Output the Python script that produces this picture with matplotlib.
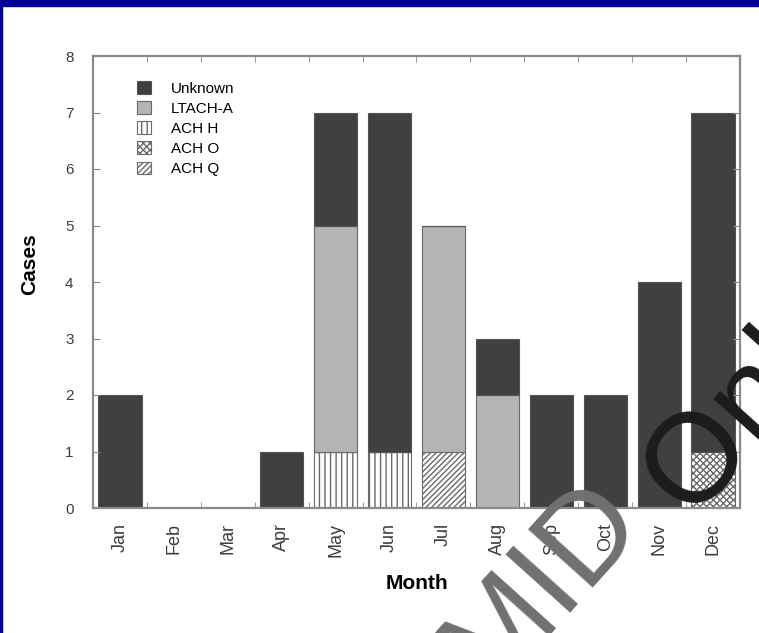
import matplotlib.pyplot as plt
import matplotlib.patches as mpatches
import numpy as np

plt.rcParams['font.family'] = ['Liberation Sans', 'DejaVu Sans']
plt.rcParams['hatch.color'] = '#505050'
plt.rcParams['hatch.linewidth'] = 1.0

# data
months = ['Jan', 'Feb', 'Mar', 'Apr', 'May', 'Jun', 'Jul', 'Aug', 'Sep', 'Oct', 'Nov', 'Dec']
ach_h = [0, 0, 0, 0, 1, 1, 0, 0, 0, 0, 0, 0]
ach_o = [0, 0, 0, 0, 0, 0, 0, 0, 0, 0, 0, 1]
ach_q = [0, 0, 0, 0, 0, 0, 1, 0, 0, 0, 0, 0]
ltach_a = [0, 0, 0, 0, 4, 0, 4, 2, 0, 0, 0, 0]
unknown = [2, 0, 0, 1, 2, 6, 0, 1, 2, 2, 4, 6]

W, H = 759, 633
fig = plt.figure(figsize=(W / 100, H / 100), dpi=100)
ax = fig.add_axes([93 / W, 1 - 508 / H, 647 / W, 452 / H])

x = np.arange(len(months))
bw = 0.8
edge = '#6a6a6a'
bottom = np.zeros(len(months))

# stacks, bottom first
b_h = ax.bar(x, ach_h, bw, bottom=bottom, color='white', edgecolor=edge, lw=0.8, hatch='|||')
bottom += ach_h
b_o = ax.bar(x, ach_o, bw, bottom=bottom, color='white', edgecolor=edge, lw=0.8, hatch='xxxxx')
bottom += ach_o
b_q = ax.bar(x, ach_q, bw, bottom=bottom, color='white', edgecolor=edge, lw=0.8, hatch='//////')
bottom += ach_q
b_l = ax.bar(x, ltach_a, bw, bottom=bottom, color='#b4b4b4', edgecolor=edge, lw=0.8)
bottom += ltach_a
b_u = ax.bar(x, unknown, bw, bottom=bottom, color='#404040', edgecolor='#555555', lw=0.8)

ax.set_xlim(-0.5, 11.5)
ax.set_ylim(0, 8)
ax.set_yticks(range(9))
ax.set_xticks(x)
ax.set_xticklabels(months, rotation=90, fontsize=13, color='#3c3c3c')
ax.set_xticks(np.arange(-0.5, 12, 1), minor=True)
ax.tick_params(axis='x', which='major', length=0, pad=11)
ax.tick_params(axis='x', which='minor', direction='in', length=4, color='#888888', top=True)
ax.tick_params(axis='y', direction='in', length=5, color='#888888', right=True,
               labelsize=11, labelcolor='#3c3c3c', pad=14)
for s in ax.spines.values():
    s.set_color('#8a8a8a')
    s.set_linewidth(1.6)

ax.set_xlabel('Month', fontsize=15, fontweight='bold', labelpad=12)
ax.set_ylabel('Cases', fontsize=15, fontweight='bold')
ax.yaxis.set_label_coords(-0.083, 0.54)

handles = [b_u, b_l, b_h, b_o, b_q]
labels = ['Unknown', 'LTACH-A', 'ACH H', 'ACH O', 'ACH Q']
ax.legend(handles, labels, loc='upper left', bbox_to_anchor=(0.052, 0.968), frameon=False,
          fontsize=11, handlelength=0.9, handleheight=0.9, handletextpad=1.3,
          labelspacing=0.36, borderpad=0.2)

# page frame
fig.patches.append(mpatches.Rectangle((0, 1 - 6 / H), 1, 6 / H, transform=fig.transFigure,
                                      color='#000099', zorder=5))
fig.patches.append(mpatches.Rectangle((0, 0), 2 / W, 1, transform=fig.transFigure,
                                      color='#000099', zorder=5))

# watermark (pixel coords, origin bottom-left)
ang = 48
fig.text(490, -58, 'MID', transform=None, rotation=ang, rotation_mode='anchor',
         ha='left', va='baseline', fontsize=91, color='#707070', zorder=10)
fig.text(690, 115, 'Online', transform=None, rotation=ang, rotation_mode='anchor',
         ha='left', va='baseline', fontsize=91, color='#1c1c1c', zorder=10)

fig.savefig('out.png', dpi=100)
